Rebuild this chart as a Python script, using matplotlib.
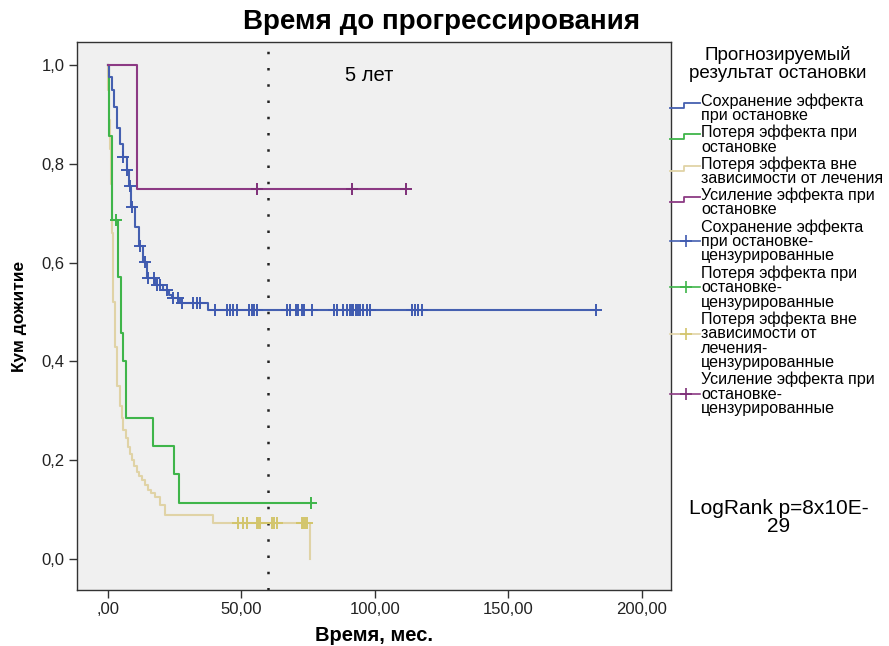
import numpy as np
import matplotlib.pyplot as plt

plt.rcParams['font.family'] = ['Liberation Sans', 'DejaVu Sans']

# Kaplan-Meier steps (time in months, survival after the drop)
blue_t = [0, 0.4, 1.4, 2.2, 3.3, 4.5, 5.5, 7.0, 8.0, 8.5, 10.1, 11.7, 13.2, 14.5,
          17.5, 20.5, 23.0, 24.0, 27.0, 37.6]
blue_s = [1.0, 0.976, 0.949, 0.916, 0.872, 0.841, 0.814, 0.787, 0.756, 0.713, 0.673,
          0.634, 0.602, 0.569, 0.555, 0.545, 0.534, 0.528, 0.518, 0.504]
blue_cens = [5.8, 7.2, 8.2, 8.9, 12.0, 14.0, 15.1, 17.2, 18.2, 19.5, 22.0, 24.5, 26.3,
             27.6, 32.0, 33.2, 34.5, 40.1, 44.7, 45.7, 47.0, 48.4, 52.8, 53.8, 54.8,
             55.9, 66.9, 68.2, 70.3, 71.3, 72.5, 73.4, 76.3, 84.8, 85.7, 87.9, 89.4,
             90.6, 91.3, 91.9, 92.8, 93.7, 94.4, 95.6, 96.9, 98.1, 113.7, 115.0,
             116.2, 117.5, 182.8]

green_t = [0, 0.2, 1.4, 3.6, 4.9, 5.7, 6.7, 16.7, 24.7, 26.7]
green_s = [1.0, 0.857, 0.686, 0.571, 0.457, 0.400, 0.286, 0.229, 0.171, 0.114]
green_cens = [2.9, 76.0]

yellow_t = [0, 0.15, 0.4, 0.7, 1.0, 1.4, 1.8, 2.6, 3.5, 4.5, 5.1, 5.7, 6.6, 7.6, 8.2,
            8.9, 9.8, 10.7, 11.6, 12.6, 13.8, 15.1, 16.3, 17.6, 19.5, 21.3, 39.4, 75.7]
yellow_s = [1.0, 0.95, 0.89, 0.83, 0.76, 0.66, 0.52, 0.43, 0.35, 0.31, 0.285, 0.261,
            0.244, 0.227, 0.213, 0.200, 0.188, 0.177, 0.168, 0.160, 0.150, 0.140,
            0.133, 0.126, 0.109, 0.089, 0.072, 0.0]
yellow_cens = [48.8, 50.7, 52.2, 55.7, 56.3, 56.9, 61.3, 62.2, 63.2, 72.5, 73.1,
               73.8, 74.6]

purple_t = [0, 10.9]
purple_s = [1.0, 0.75]
purple_cens = [55.7, 91.5, 111.6]

labels = ["Сохранение эффекта\nпри остановке",
          "Потеря эффекта при\nостановке",
          "Потеря эффекта вне\nзависимости от лечения",
          "Усиление эффекта при\nостановке",
          "Сохранение эффекта\nпри остановке-\nцензурированные",
          "Потеря эффекта при\nостановке-\nцензурированные",
          "Потеря эффекта вне\nзависимости от\nлечения-\nцензурированные",
          "Усиление эффекта при\nостановке-\nцензурированные"]

line_cols = ['#4560b0', '#3fb54a', '#e0d3a6', '#8c3a84']
cens_cols = ['#3f5ab0', '#3fb54a', '#d3c56c', '#7e2f78']

xticks = [0, 50, 100, 150, 200]
xtick_labels = [",00", "50,00", "100,00", "150,00", "200,00"]
yticks = [0.0, 0.2, 0.4, 0.6, 0.8, 1.0]
ytick_labels = ["0,0", "0,2", "0,4", "0,6", "0,8", "1,0"]

W, H = 889, 646
fig = plt.figure(figsize=(W / 100, H / 100), dpi=100)
ax = fig.add_axes([77 / W, 1 - 590 / H, (671 - 77) / W, (590 - 42) / H])
ax.set_facecolor('#f0f0f0')

groups = [(blue_t, blue_s, blue_cens), (green_t, green_s, green_cens),
          (yellow_t, yellow_s, yellow_cens), (purple_t, purple_s, purple_cens)]
order = [2, 1, 0, 3]
for i in order:
    t, s, c = groups[i]
    end = max(t[-1], max(c))
    xs = list(t) + [end]
    ys = list(s) + [s[-1]]
    ax.step(xs, ys, where='post', color=line_cols[i], lw=1.5, zorder=3)
    idx = np.searchsorted(t, c, side='right') - 1
    ax.plot(c, np.array(s)[idx], ls='none', marker='+', ms=8, mew=1.4,
            color=cens_cols[i], zorder=4)

ax.axvline(60, color='#222222', lw=1.8, ls=(0, (1, 5.5)), zorder=2)
ax.text(98, 0.98, "5 лет", fontsize=14.5, ha='center', va='center')

ax.set_xlim(-11.6, 210.9)
ax.set_ylim(-0.063, 1.047)
ax.set_xticks(xticks)
ax.set_xticklabels(xtick_labels, fontsize=12, color='#222222')
ax.set_yticks(yticks)
ax.set_yticklabels(ytick_labels, fontsize=12, color='#222222')
ax.tick_params(direction='out', length=6, width=1, color='#333333', pad=3)
for sp in ax.spines.values():
    sp.set_color('#333333')
    sp.set_linewidth(1)

ax.set_xlabel("Время, мес.", fontsize=14.5, fontweight='bold', labelpad=6)
ax.set_ylabel("Кум дожитие", fontsize=12.5, fontweight='bold', labelpad=10)
fig.text(0.497, 1 - 22 / H, "Время до прогрессирования", fontsize=20,
         fontweight='bold', ha='center', va='center')

# legend drawn by hand to the right of the plot
def fy(y):
    return 1 - y / H

fig.text(778 / W, fy(55), "Прогнозируемый", fontsize=13.5, ha='center', va='center')
fig.text(778 / W, fy(73), "результат остановки", fontsize=13.5, ha='center', va='center')

lh, gap = 14.6, 2.25
y = 101
for k, lab in enumerate(labels):
    rows = lab.split("\n")
    for j, row in enumerate(rows):
        fig.text(701 / W, fy(y + j * lh), row, fontsize=11.6, ha='left', va='center')
    col = line_cols[k % 4]
    if k < 4:
        yi = y + 2
        fig.add_artist(plt.Line2D([670 / W, 684 / W, 684 / W, 700 / W],
                                  [fy(yi + 5), fy(yi + 5), fy(yi), fy(yi)],
                                  color=col, lw=1.3))
    else:
        yi = y + lh
        fig.add_artist(plt.Line2D([670 / W, 700 / W], [fy(yi), fy(yi)],
                                  color=col, lw=1.2))
        fig.add_artist(plt.Line2D([686 / W], [fy(yi)], marker='+', ms=9,
                                  mew=1.2, color=cens_cols[k % 4]))
    y += len(rows) * lh + gap

fig.text(779 / W, fy(509), "LogRank p=8x10E-", fontsize=15, ha='center', va='center')
fig.text(779 / W, fy(527), "29", fontsize=15, ha='center', va='center')

fig.savefig("out.png", dpi=100)
